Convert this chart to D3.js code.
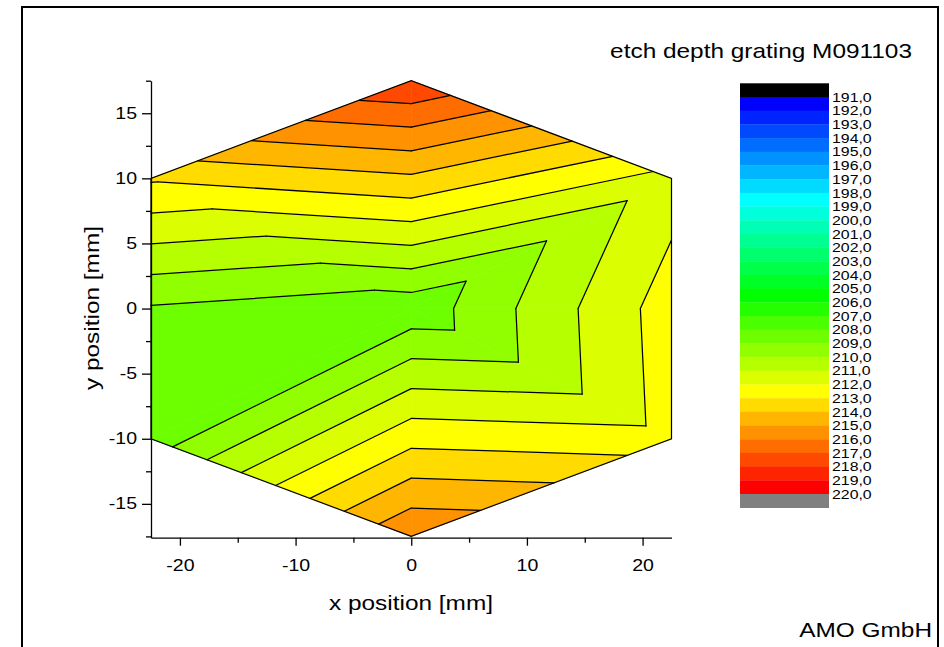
<!DOCTYPE html>
<html>
<head>
<meta charset="utf-8">
<script src="https://cdn.jsdelivr.net/npm/d3@7"></script>
<style>
    body { margin: 0; background: #fff; }
    svg text { font-family: "Liberation Sans", Arial, sans-serif; fill: #000; }
</style>
</head>
<body>
<svg id="chart" width="944" height="647"></svg>
<script>

// measurement points on the wafer [mm] and the etch depth read at each
const pointX = [0, 22.5, 22.5, 22.5, 0, -22.5, -22.5, -22.5, 0];
const pointY = [17.5, 10, 0, -10, -17.5, -10, 0, 10, 0];
const depth = [217.97, 211.55, 212.5, 212.4, 215.95, 208.37, 208.9, 213.13, 208.32];

// contour levels and colour map
const levels = d3.range(191, 221);
const levelLabels = levels.map(v => v.toFixed(1).replace(".", ","));
const colorStops = ["#0000ff", "#00ffff", "#00ff00", "#ffff00", "#ff0000"];
const belowColor = "#000000";
const aboveColor = "#808080";

// axis ticks
const xTicks = [-20, -10, 0, 10, 20];
const xMinor = [-15, -5, 5, 15];
const yTicks = [-15, -10, -5, 0, 5, 10, 15];
const yMinor = [-17.5, -12.5, -7.5, -2.5, 2.5, 7.5, 12.5, 17.5];

const title = "etch depth grating M091103";
const xTitle = "x position [mm]";
const yTitle = "y position [mm]";
const credit = "AMO GmbH";

const stretch = 1.22; // text in the original is drawn wide

const svg = d3.select("#chart");

const x = d3.scaleLinear().domain([-22.5, 22.5]).range([151, 671.5]);
const y = d3.scaleLinear().domain([-17.6, 17.5]).range([537.7, 80.7]);

const bandIndex = d3.scaleLinear().domain([0, 7, 14, 21, 28]).range(colorStops);

// one band per interval between levels, plus below / above
let bands = [{lo: -Infinity, hi: levels[0], color: belowColor}];
for (let i = 0; i < levels.length - 1; i++) {
    bands.push({lo: levels[i], hi: levels[i + 1], color: bandIndex(i)});
}
bands.push({lo: levels[levels.length - 1], hi: Infinity, color: aboveColor});

// page frame
svg.append("rect")
    .attr("x", 22).attr("y", 7)
    .attr("width", 916).attr("height", 680)
    .attr("fill", "none")
    .attr("stroke", "#000")
    .attr("stroke-width", 2);

// triangulate the measurement points
const pts = pointX.map((d, i) => [d, pointY[i], depth[i]]);
const delaunay = d3.Delaunay.from(pts, d => d[0], d => d[1]);
let triangles = [];
for (let i = 0; i < delaunay.triangles.length; i += 3) {
    let tri = [pts[delaunay.triangles[i]], pts[delaunay.triangles[i + 1]], pts[delaunay.triangles[i + 2]]];
    let area = (tri[1][0] - tri[0][0]) * (tri[2][1] - tri[0][1]) - (tri[2][0] - tri[0][0]) * (tri[1][1] - tri[0][1]);
    if (Math.abs(area) > 1e-6) triangles.push(tri);
}

function clip(poly, val, keepAbove) {
    let out = [];
    for (let i = 0; i < poly.length; i++) {
        let a = poly[i], b = poly[(i + 1) % poly.length];
        let ina = keepAbove ? a[2] >= val : a[2] <= val;
        let inb = keepAbove ? b[2] >= val : b[2] <= val;
        if (ina) out.push(a);
        if (ina !== inb) {
            let t = (val - a[2]) / (b[2] - a[2]);
            out.push([a[0] + t * (b[0] - a[0]), a[1] + t * (b[1] - a[1]), val]);
        }
    }
    return out;
}

let polys = [];
triangles.forEach(tri => {
    bands.forEach(b => {
        let p = tri;
        if (isFinite(b.lo)) p = clip(p, b.lo, true);
        if (p.length && isFinite(b.hi)) p = clip(p, b.hi, false);
        if (p.length > 2) polys.push({pts: p, color: b.color});
    });
});

const plot = svg.append("g").attr("class", "plot");

plot.selectAll(".band")
    .data(polys)
    .enter().append("path")
    .attr("class", "band")
    .attr("d", d => "M" + d.pts.map(p => x(p[0]) + "," + y(p[1])).join("L") + "Z")
    .attr("fill", d => d.color)
    .attr("stroke", d => d.color)
    .attr("stroke-width", 0.6);

// contour lines
let segs = [];
levels.forEach(L => {
    triangles.forEach(tri => {
        let cross = [];
        for (let i = 0; i < 3; i++) {
            let a = tri[i], b = tri[(i + 1) % 3];
            if ((a[2] - L) * (b[2] - L) < 0) {
                let t = (L - a[2]) / (b[2] - a[2]);
                cross.push([a[0] + t * (b[0] - a[0]), a[1] + t * (b[1] - a[1])]);
            }
        }
        if (cross.length === 2) segs.push(cross);
    });
});

plot.selectAll(".contour")
    .data(segs)
    .enter().append("path")
    .attr("class", "contour")
    .attr("d", d => `M${x(d[0][0])},${y(d[0][1])}L${x(d[1][0])},${y(d[1][1])}`)
    .attr("stroke", "#000")
    .attr("stroke-width", 1.25)
    .attr("stroke-linecap", "round")
    .attr("fill", "none");

// outline of the measured area
plot.append("path")
    .attr("d", "M" + delaunay.hullPolygon().map(p => x(p[0]) + "," + y(p[1])).join("L") + "Z")
    .attr("fill", "none")
    .attr("stroke", "#000")
    .attr("stroke-width", 1.2);

// axes
const fmt = d => String(d);
const xAxis = d3.axisBottom(x).tickValues(xTicks).tickFormat(fmt).tickSize(8).tickSizeOuter(0).tickPadding(14);
const yAxis = d3.axisLeft(y).tickValues(yTicks).tickFormat(fmt).tickSize(9).tickSizeOuter(0).tickPadding(2.5);

const gx = svg.append("g").attr("transform", `translate(0,${y(-17.6)})`).call(xAxis);
const gy = svg.append("g").attr("transform", `translate(${x(-22.5)},0)`).call(yAxis);

svg.append("g").attr("transform", `translate(0,${y(-17.6)})`)
    .call(d3.axisBottom(x).tickValues(xMinor).tickSize(5).tickFormat(""))
    .select(".domain").remove();
svg.append("g").attr("transform", `translate(${x(-22.5)},0)`)
    .call(d3.axisLeft(y).tickValues(yMinor).tickSize(5).tickFormat(""))
    .select(".domain").remove();

svg.selectAll(".domain, .tick line").attr("stroke", "#000").attr("stroke-width", 1.3);
[gx, gy].forEach(g => {
    g.selectAll("text")
        .attr("font-size", 16)
        .attr("font-family", "Liberation Sans, Arial, sans-serif")
        .attr("fill", "#000")
        .attr("transform", `scale(${stretch},1)`);
});

function addText(tx, ty, str, size, anchor, rotate) {
    return svg.append("text")
        .attr("transform", `translate(${tx},${ty})` + (rotate ? ` rotate(${rotate})` : "") + ` scale(${stretch},1)`)
        .attr("text-anchor", anchor)
        .attr("font-size", size)
        .text(str);
}

addText(411, 610, xTitle, 20, "middle");
addText(99, 308, yTitle, 20, "middle", -90);
addText(912, 58, title, 20, "end");
addText(932, 637, credit, 20, "end");

// colour scale legend
const legendY = d3.scaleLinear().domain([levels[0] - 1, levels[levels.length - 1] + 1]).range([83.3, 507.7]);
const legend = svg.append("g").attr("class", "legend");

legend.selectAll("rect")
    .data(bands)
    .enter().append("rect")
    .attr("x", 740)
    .attr("width", 89)
    .attr("y", d => legendY(isFinite(d.lo) ? d.lo : d.hi - 1))
    .attr("height", legendY(1) - legendY(0) + 0.3)
    .attr("fill", d => d.color);

legend.selectAll("text")
    .data(levels)
    .enter().append("text")
    .attr("transform", d => `translate(832,${legendY(d)}) scale(${stretch},1)`)
    .attr("dy", "0.36em")
    .attr("font-size", 13)
    .text((d, i) => levelLabels[i]);

</script>
</body>
</html>
